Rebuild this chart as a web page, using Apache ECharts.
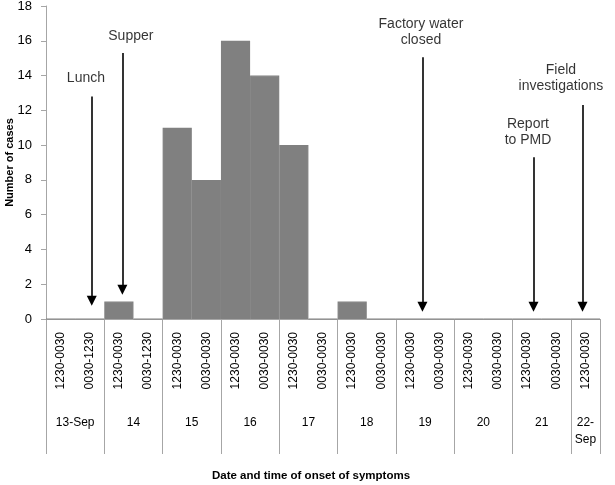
<!DOCTYPE html>
<html><head><meta charset="utf-8">
<script src="https://cdn.jsdelivr.net/npm/echarts@6/dist/echarts.min.js"></script>
<style>html,body{margin:0;padding:0;background:#fff}#c{width:615px;height:485px}</style>
</head><body><div id="c"></div>
<script>
// 19 half-day slots
var slotLabels = ['1230-0030','0030-1230','1230-0030','0030-1230','1230-0030','0030-0030','1230-0030','0030-0030','1230-0030','0030-0030','1230-0030','0030-0030','1230-0030','0030-0030','1230-0030','0030-0030','1230-0030','0030-0030','1230-0030'];
var cases = [0,0,1,0,11,8,16,14,10,0,1,0,0,0,0,0,0,0,0];
// day labels positioned in slot units (0..19)
var dayPos = [1,3,5,7,9,11,13,15,17,18.5];
var dayNames = ['13-Sep','14','15','16','17','18','19','20','21','22-\nSep'];
var yTicks = {min:0, max:18, interval:2};
// annotation arrows: x in slot units, y top, y bottom
var arrowX = [1.57, 2.62, 12.91, 16.72, 18.40];
var arrowTop = [12.8, 15.3, 15.05, 9.3, 12.3];
var arrowBottom = [1.05, 1.68, 0.71, 0.71, 0.71];
// annotation texts: x in slot units, y value, text
var noteX = [1.37, 2.91, 12.86, 16.53, 17.66];
var noteY = [13.87, 16.28, 16.51, 10.74, 13.83];
var noteText = ['Lunch','Supper','Factory water\nclosed','Report\nto PMD','Field\ninvestigations'];

var axisGrey = '#a6a6a6';
var font = 'Liberation Sans, Arial, sans-serif';
var chart = echarts.init(document.getElementById('c'));
chart.setOption({
  animation:false,
  grid:{left:46, right:15, top:6, bottom:166, containLabel:false, outerBoundsMode:'none'},
  xAxis:[{
    type:'category', data:slotLabels, boundaryGap:true,
    axisLine:{lineStyle:{color:axisGrey, width:1}},
    axisTick:{show:true, length:135, interval:function(i){return i%2===0;}, lineStyle:{color:axisGrey}},
    axisLabel:{interval:0, rotate:90, margin:13, fontSize:12, color:'#000', fontFamily:font},
    name:'Date and time of onset of symptoms', nameLocation:'middle', nameGap:151, nameMoveOverlap:false,
    nameTextStyle:{fontWeight:'bold', fontSize:11.5, color:'#000', fontFamily:font, padding:[0,24,0,0]}
  },{
    type:'value', min:0, max:19, interval:0.5, position:'bottom',
    axisLine:{show:false}, axisTick:{show:false}, splitLine:{show:false},
    axisLabel:{margin:95, fontSize:12, lineHeight:17, color:'#000', fontFamily:font, showMinLabel:true, showMaxLabel:true,
      formatter:function(v){for(var k=0;k<dayPos.length;k++){if(Math.abs(dayPos[k]-v)<1e-6)return dayNames[k];}return '';}}
  }],
  yAxis:{
    type:'value', min:yTicks.min, max:yTicks.max, interval:yTicks.interval,
    axisLine:{show:true, lineStyle:{color:axisGrey}},
    axisTick:{show:true, length:5, lineStyle:{color:axisGrey}},
    splitLine:{show:false},
    axisLabel:{fontSize:13, color:'#000', fontFamily:font, margin:14},
    name:'Number of cases', nameLocation:'middle', nameGap:31, nameMoveOverlap:false,
    nameTextStyle:{fontWeight:'bold', fontSize:11, color:'#000', fontFamily:font}
  },
  series:[{
    type:'bar', data:cases, xAxisIndex:0, barCategoryGap:'0%', barGap:'0%',
    itemStyle:{color:'#808080', borderColor:'#808080', borderWidth:1.2}, silent:true
  },{
    type:'lines', coordinateSystem:'cartesian2d', xAxisIndex:1, yAxisIndex:0, silent:true,
    symbol:['none','triangle'], symbolSize:[9,10],
    lineStyle:{color:'#000', width:1.6, opacity:1},
    data: arrowX.map(function(x,i){return {coords:[[x,arrowTop[i]],[x,arrowBottom[i]]]};})
  },{
    type:'scatter', xAxisIndex:1, yAxisIndex:0, symbolSize:0, silent:true,
    data: noteX.map(function(x,i){return [x, noteY[i], noteText[i]];}),
    label:{show:true, position:'inside', formatter:function(p){return p.data[2];}, fontSize:14, lineHeight:16, color:'#000', fontFamily:font}
  }]
});
</script></body></html>
